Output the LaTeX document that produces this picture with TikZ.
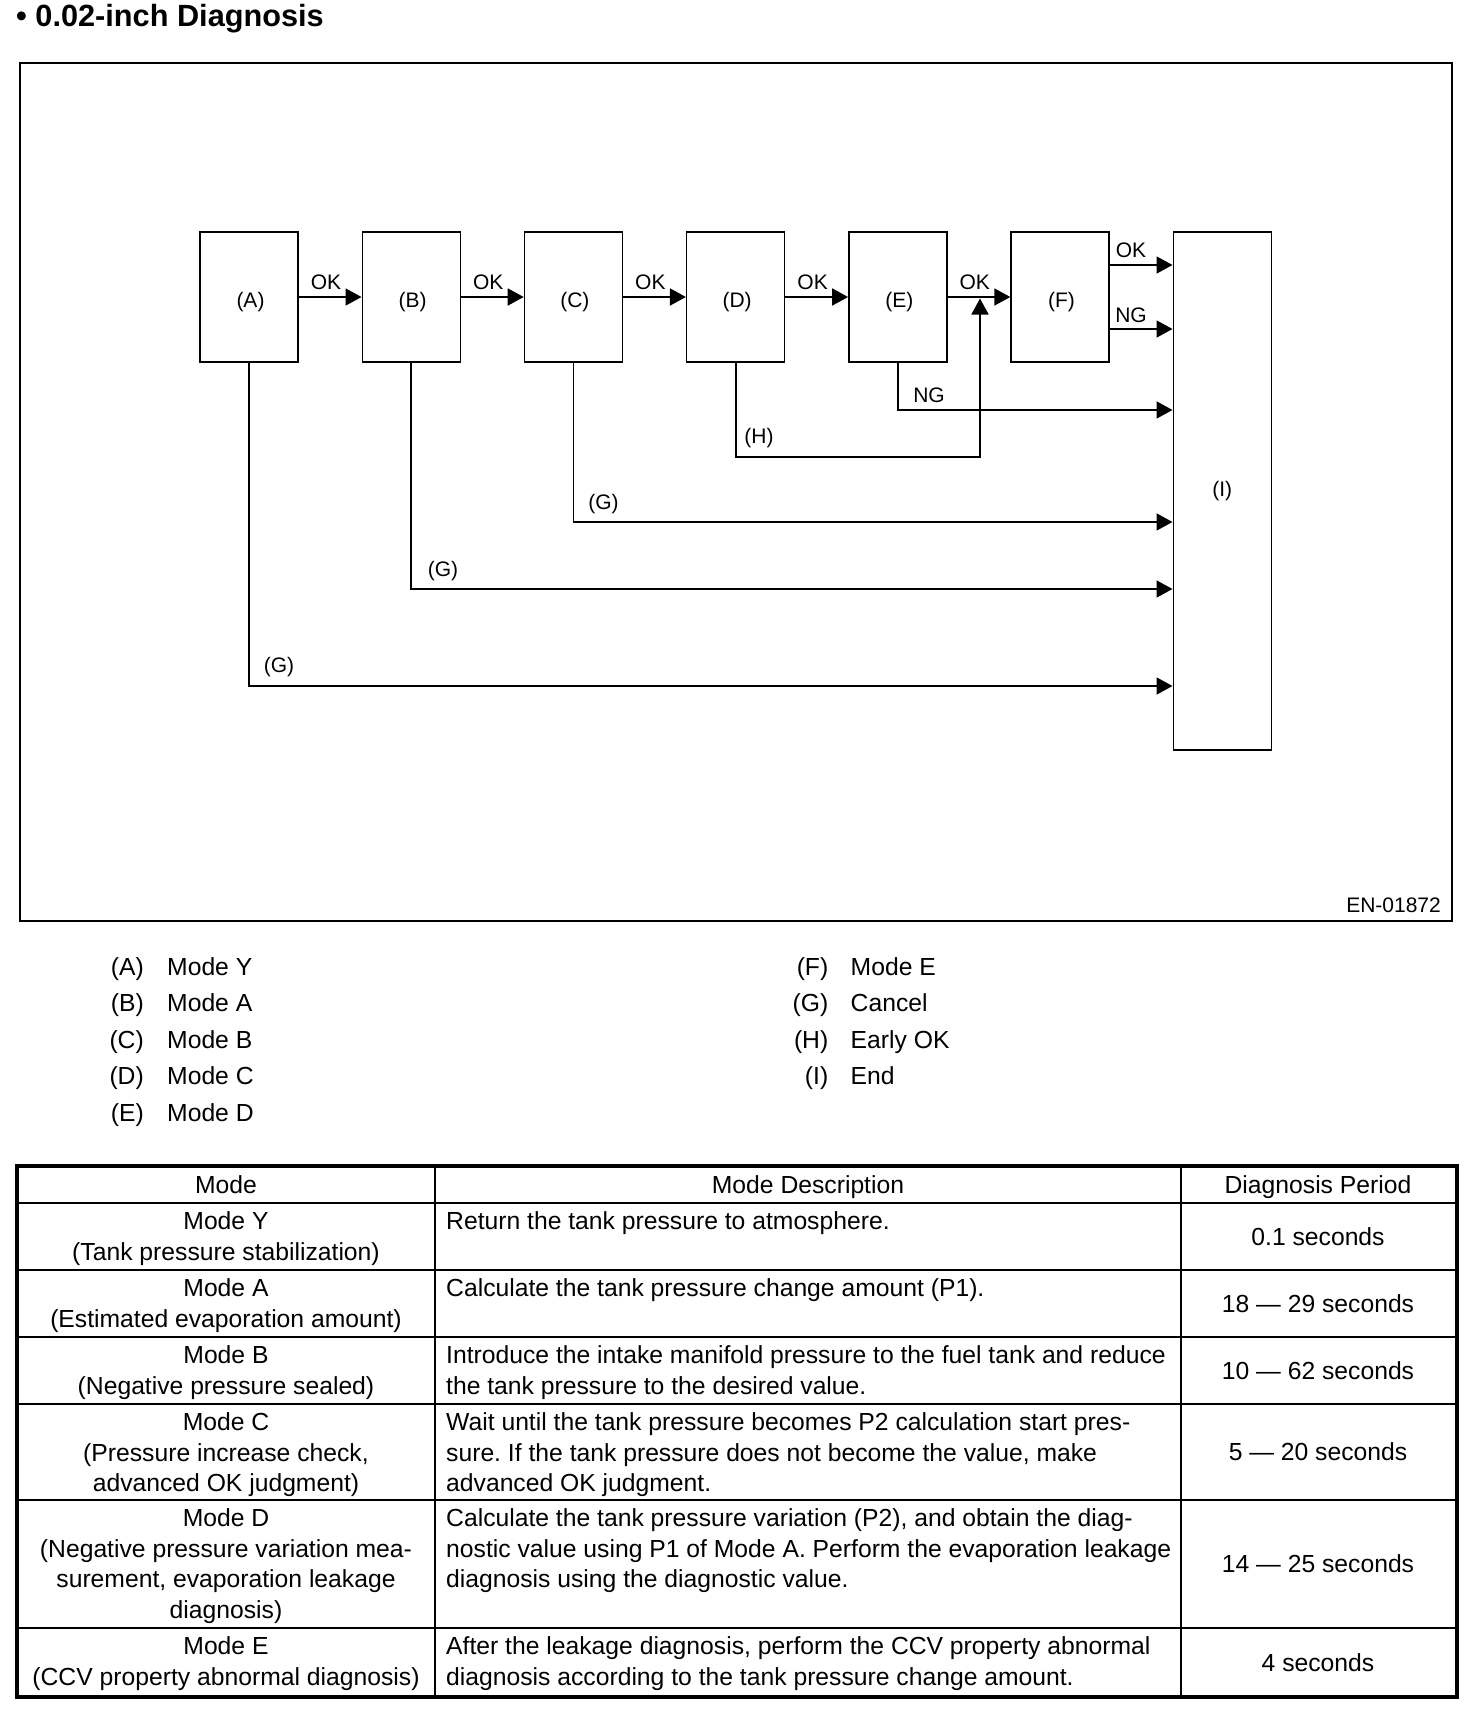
\documentclass[tikz,border=0pt]{standalone}
\usepackage{fontspec}
\setmainfont{Liberation Sans}
\usetikzlibrary{arrows.meta}
\frenchspacing
\begin{document}
\begin{tikzpicture}[x=1pt,y=-1pt,
  box/.style={draw, line width=1.4pt, minimum width=98pt, minimum height=130pt, inner sep=0pt, text height=24pt, text depth=4pt, font=\fontsize{21}{25}\selectfont},
  conn/.style={line width=1.8pt, -{Triangle[length=16pt,width=17pt]}},
  lbl/.style={font=\fontsize{21}{25}\selectfont, inner sep=0pt},
  tx/.style={font=\fontsize{24.7}{30.5}\selectfont\frenchspacing, inner sep=0pt},
]
\useasboundingbox (0,0) rectangle (1472,1714);
% title
\node[anchor=base west, font=\bfseries\fontsize{30.7}{36}\selectfont, inner sep=0pt] (title) at (16,26) {\textbullet\ 0.02-inch Diagnosis};
% frame
\draw[line width=1.4pt] (20,63) rectangle (1452,921);
\draw[line width=2.4pt] (19.3,63) -- (1452.7,63);
\draw[line width=2.4pt] (19.3,921) -- (1452.7,921);
% boxes
\node[box] (A) at (249,297) {\hspace*{3pt}(A)};
\node[box] (B) at (411.2,297) {\hspace*{3pt}(B)};
\node[box] (C) at (573.4,297) {\hspace*{3pt}(C)};
\node[box] (D) at (735.6,297) {\hspace*{3pt}(D)};
\node[box] (E) at (897.8,297) {\hspace*{3pt}(E)};
\node[box] (F) at (1060,297) {\hspace*{3pt}(F)};
\node[box, minimum height=518pt, text height=15pt, text depth=5pt] (I) at (1222.2,491) {(I)};
% helper coordinates
\coordinate (fok) at (0,265);
\coordinate (fng) at (0,329);
\coordinate (eng) at (0,410);
\coordinate (Hc) at (980,457);
\coordinate (Hup) at (980,298.5);
\coordinate (g1) at (0,522);
\coordinate (g2) at (0,589);
\coordinate (g3) at (0,686);
% main arrows
\draw[conn] (A) -- (B);
\draw[conn] (B) -- (C);
\draw[conn] (C) -- (D);
\draw[conn] (D) -- (E);
\draw[conn] (E) -- (F);
\draw[conn] (F.east |- fok) -- (I.west |- fok);
\draw[conn] (F.east |- fng) -- (I.west |- fng);
\draw[conn] (E.south) |- (I.west |- eng);
\draw[conn] (D.south) |- (Hc) -- (Hup);
\draw[conn] (C.south) |- (I.west |- g1);
\draw[conn] (B.south) |- (I.west |- g2);
\draw[conn] (A.south) |- (I.west |- g3);
% labels
\node[lbl] (ok1) at (326,282) {OK};
\node[lbl] (ok2) at (488.2,282) {OK};
\node[lbl] (ok3) at (650.4,282) {OK};
\node[lbl] (ok4) at (812.6,282) {OK};
\node[lbl] (ok5) at (974.8,282) {OK};
\node[lbl] (ok6) at (1131,250) {OK};
\node[lbl] (ng1) at (1131,315) {NG};
\node[lbl] (ng2) at (929,395) {NG};
\node[lbl] (hl) at (759,438) {(H)};
\node[lbl] (gl1) at (603.5,504) {(G)};
\node[lbl] (gl2) at (443,571.5) {(G)};
\node[lbl] (gl3) at (279,667) {(G)};
\node[lbl, anchor=base east] (en) at (1441,912) {EN-01872};
% legend
\node[tx, anchor=base east] (la) at (144,975.4) {(A)};
\node[tx, anchor=base west] (lat) at (167,975.4) {Mode Y};
\node[tx, anchor=base east] (lb) at (144,1011.6) {(B)};
\node[tx, anchor=base west] (lbt) at (167,1011.6) {Mode A};
\node[tx, anchor=base east] (lc) at (144,1048.3) {(C)};
\node[tx, anchor=base west] (lct) at (167,1048.3) {Mode B};
\node[tx, anchor=base east] (ld) at (144,1084.5) {(D)};
\node[tx, anchor=base west] (ldt) at (167,1084.5) {Mode C};
\node[tx, anchor=base east] (le) at (144,1121.6) {(E)};
\node[tx, anchor=base west] (let) at (167,1121.6) {Mode D};
\node[tx, anchor=base east] (lf) at (828.5,975.4) {(F)};
\node[tx, anchor=base west] (lft) at (850.5,975.4) {Mode E};
\node[tx, anchor=base east] (lg) at (828.5,1011.6) {(G)};
\node[tx, anchor=base west] (lgt) at (850.5,1011.6) {Cancel};
\node[tx, anchor=base east] (lh) at (828.5,1048.3) {(H)};
\node[tx, anchor=base west] (lht) at (850.5,1048.3) {Early OK};
\node[tx, anchor=base east] (li) at (828.5,1084.5) {(I)};
\node[tx, anchor=base west] (lit) at (850.5,1084.5) {End};
% table grid
\draw[line width=2pt] (435,1166) -- (435,1697);
\draw[line width=2pt] (1181,1166) -- (1181,1697);
\foreach \yy in {1203,1270,1337,1404,1500,1628}
  \draw[line width=2pt] (17,\yy) -- (1457,\yy);
\draw[line width=3.5pt] (17,1166) rectangle (1457,1697);
% header
\node[tx, anchor=base] (h1) at (226,1193) {Mode};
\node[tx, anchor=base] (h2) at (808,1193) {Mode Description};
\node[tx, anchor=base] (h3) at (1318,1193) {Diagnosis Period};
% row 1
\node[tx, anchor=base] (r1a) at (226,1229.5) {Mode Y};
\node[tx, anchor=base] (r1b) at (226,1260) {(Tank pressure stabilization)};
\node[tx, anchor=base west] (r1c) at (446,1229.5) {Return the tank pressure to atmosphere.};
\node[tx, anchor=base] (r1d) at (1318,1245) {0.1 seconds};
% row 2
\node[tx, anchor=base] (r2a) at (226,1296.5) {Mode A};
\node[tx, anchor=base] (r2b) at (226,1327) {(Estimated evaporation amount)};
\node[tx, anchor=base west] (r2c) at (446,1296.5) {Calculate the tank pressure change amount (P1).};
\node[tx, anchor=base] (r2d) at (1318,1312) {18 — 29 seconds};
% row 3
\node[tx, anchor=base] (r3a) at (226,1363.5) {Mode B};
\node[tx, anchor=base] (r3b) at (226,1394) {(Negative pressure sealed)};
\node[tx, anchor=base west] (r3c) at (446,1363.5) {Introduce the intake manifold pressure to the fuel tank and reduce};
\node[tx, anchor=base west] (r3e) at (446,1394) {the tank pressure to the desired value.};
\node[tx, anchor=base] (r3d) at (1318,1379) {10 — 62 seconds};
% row 4
\node[tx, anchor=base] (r4a) at (226,1430.5) {Mode C};
\node[tx, anchor=base] (r4b) at (226,1461) {(Pressure increase check,};
\node[tx, anchor=base] (r4f) at (226,1491.5) {advanced OK judgment)};
\node[tx, anchor=base west] (r4c) at (446,1430.5) {Wait until the tank pressure becomes P2 calculation start pres-};
\node[tx, anchor=base west] (r4e) at (446,1461) {sure. If the tank pressure does not become the value, make};
\node[tx, anchor=base west] (r4g) at (446,1491.5) {advanced OK judgment.};
\node[tx, anchor=base] (r4d) at (1318,1460.5) {5 — 20 seconds};
% row 5
\node[tx, anchor=base] (r5a) at (226,1526.5) {Mode D};
\node[tx, anchor=base] (r5b) at (226,1557) {(Negative pressure variation mea-};
\node[tx, anchor=base] (r5f) at (226,1587.5) {surement, evaporation leakage};
\node[tx, anchor=base] (r5h) at (226,1618) {diagnosis)};
\node[tx, anchor=base west] (r5c) at (446,1526.5) {Calculate the tank pressure variation (P2), and obtain the diag-};
\node[tx, anchor=base west] (r5e) at (446,1557) {nostic value using P1 of Mode A. Perform the evaporation leakage};
\node[tx, anchor=base west] (r5g) at (446,1587.5) {diagnosis using the diagnostic value.};
\node[tx, anchor=base] (r5d) at (1318,1572.5) {14 — 25 seconds};
% row 6
\node[tx, anchor=base] (r6a) at (226,1654.5) {Mode E};
\node[tx, anchor=base] (r6b) at (226,1685) {(CCV property abnormal diagnosis)};
\node[tx, anchor=base west] (r6c) at (446,1654.5) {After the leakage diagnosis, perform the CCV property abnormal};
\node[tx, anchor=base west] (r6e) at (446,1685) {diagnosis according to the tank pressure change amount.};
\node[tx, anchor=base] (r6d) at (1318,1671) {4 seconds};
\end{tikzpicture}
\end{document}
